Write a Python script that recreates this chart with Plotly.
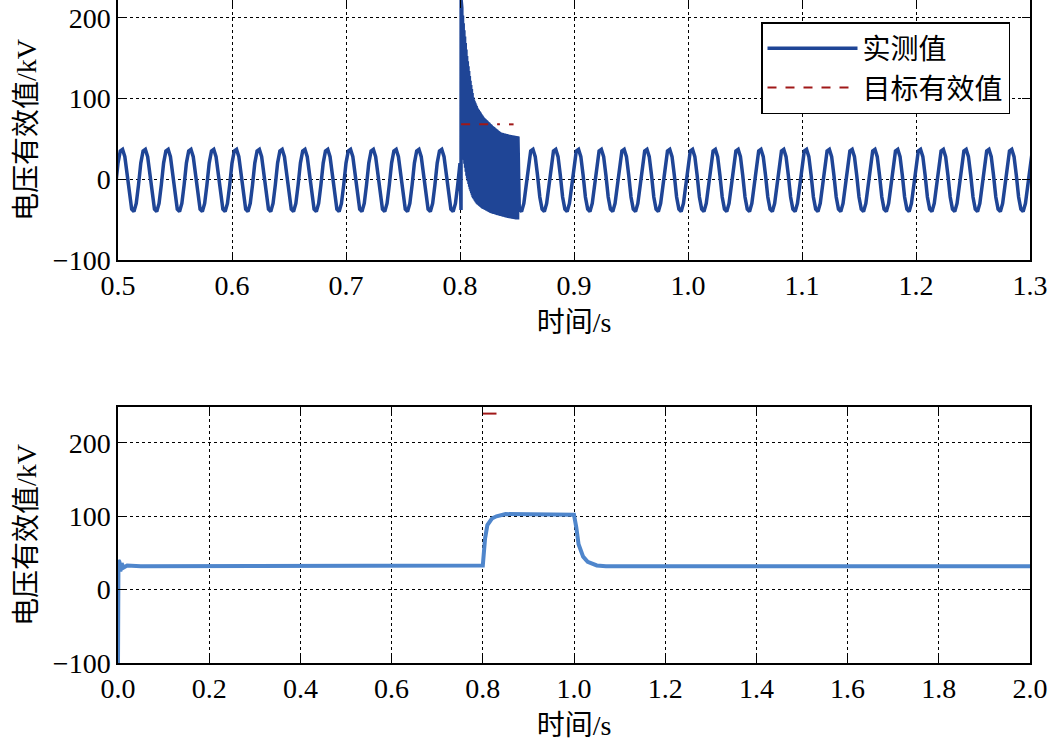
import numpy as np
import plotly.graph_objects as go

# ---- top: measured waveform ----
cycle_t = [0.0, 0.002, 0.004, 0.006, 0.008, 0.010, 0.012, 0.014, 0.016, 0.018]  # offset from trough
cycle_v = [-40, -30, -7, 20, 35, 37, 28, 5, -22, -37]
first_trough = 0.494
period = 0.02
burst_start, burst_end = 0.801, 0.851
env_t = [0.801, 0.803, 0.806, 0.809, 0.8114, 0.815, 0.820, 0.828, 0.835, 0.843, 0.851]
env_hi = [222, 190, 150, 120, 100, 88, 77, 66, 58, 55, 53]
env_lo = [70, 30, 5, -12, -22, -30, -36, -42, -45, -48, -50]
target_t = [0.801, 0.835, None, 0.843, 0.847]
target_v = [68, 68, None, 68, 68]

# ---- bottom: RMS ----
rms_t = [0.0, 0.001, 0.002, 0.003, 0.005, 0.008, 0.012, 0.02, 0.05, 0.2, 0.5, 0.79, 0.80, 0.805, 0.81, 0.82, 0.83, 0.85, 0.9, 0.99, 1.0, 1.005, 1.01, 1.02, 1.03, 1.05, 1.07, 1.2, 1.6, 2.0]
rms_v = [-100, 40, 20, 38, 25, 36, 30, 33, 32, 32, 32, 32, 33, 70, 88, 97, 100, 103, 103, 103, 102, 85, 62, 45, 38, 33, 32, 32, 32, 32]
rms_target_t = [0.8, 0.83]
rms_target_v = [240, 240]

tt, vv = [], []
k = 0
while True:
    base = first_trough + k * period
    if base > 1.31:
        break
    for ct, cv in zip(cycle_t, cycle_v):
        t = base + ct
        if 0.49 <= t <= 1.31 and not (burst_start <= t <= burst_end):
            tt.append(t); vv.append(cv)
    k += 1
bt = np.arange(burst_start, burst_end, 0.0003)
hi = np.interp(bt, env_t, env_hi)
lo = np.interp(bt, env_t, env_lo)
burst_v = np.where(np.arange(len(bt)) % 2 == 0, hi, lo)
pts = sorted(list(zip(tt, vv)) + [(burst_start - 0.0001, -38), (burst_start, 222)] + list(zip(bt, burst_v)))
tt = [p[0] for p in pts]; vv = [p[1] for p in pts]

blue = "#1f4596"
lblue = "#4f86cc"
red = "#a01818"
FONT = "Liberation Serif, Noto Sans CJK SC"

fig = go.Figure()
fig.add_trace(go.Scatter(x=tt, y=vv, mode="lines", line=dict(color=blue, width=3.5), name="实测值", xaxis="x", yaxis="y"))
fig.add_trace(go.Scatter(x=target_t, y=target_v, mode="lines", line=dict(color=red, width=2, dash="dash"), name="目标有效值", xaxis="x", yaxis="y"))
fig.add_trace(go.Scatter(x=rms_t, y=rms_v, mode="lines", line=dict(color=lblue, width=4), showlegend=False, xaxis="x2", yaxis="y2"))
fig.add_trace(go.Scatter(x=rms_target_t, y=rms_target_v, mode="lines", line=dict(color=red, width=2), showlegend=False, xaxis="x2", yaxis="y2"))

ax = dict(showline=True, linecolor="black", linewidth=1.5, mirror="ticks", ticks="inside", ticklen=8,
          tickcolor="black", showgrid=True, gridcolor="black", griddash="dot", gridwidth=1, zeroline=False,
          automargin=False, tickfont=dict(size=28, family=FONT, color="black"))
H = 663
fig.update_layout(
    width=1048, height=752, margin=dict(l=118, r=18, t=0, b=752-H),
    plot_bgcolor="white", paper_bgcolor="white", font=dict(family=FONT, color="black"),
    xaxis=dict(ax, range=[0.5, 1.3], dtick=0.1, tickformat=".1f", anchor="y",
               title=dict(text="时间/s", font=dict(size=28), standoff=12)),
    yaxis=dict(ax, domain=[1-260/H, 1], range=[-100, 222], tickvals=[-100, 0, 100, 200],
               ticktext=["−100", "0", "100", "200"], anchor="x",
               title=dict(text="电压有效值/kV", font=dict(size=28), standoff=8)),
    xaxis2=dict(ax, range=[0, 2.0], dtick=0.2, tickformat=".1f", anchor="y2",
                title=dict(text="时间/s", font=dict(size=28), standoff=12)),
    yaxis2=dict(ax, domain=[0, 1-407/H], range=[-100, 249], tickvals=[-100, 0, 100, 200],
                ticktext=["−100", "0", "100", "200"], anchor="x2",
                title=dict(text="电压有效值/kV", font=dict(size=28), standoff=8)),
    legend=dict(x=(1010-118)/912, y=1-22/H, xanchor="right", yanchor="top", bgcolor="white",
                bordercolor="black", borderwidth=1.5, font=dict(size=28, family=FONT), itemwidth=90),
)
fig.write_html("out.html", config={"displayModeBar": False},
               post_script="document.body.style.margin='0';document.body.style.overflow='hidden';")
